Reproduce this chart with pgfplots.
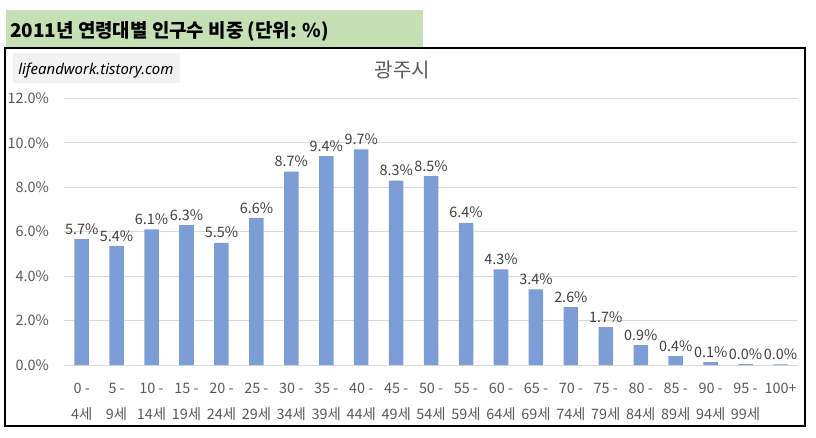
\documentclass[border=0pt]{standalone}
\usepackage{fontspec}
\usepackage{pgfplots}
\pgfplotsset{compat=1.18}
\setmainfont{Noto Sans CJK KR}
\newfontfamily\wmfont{Noto Sans}
\definecolor{barblue}{HTML}{7C9DD6}
\definecolor{gridc}{HTML}{D9D9D9}
\definecolor{tickc}{HTML}{595959}
\definecolor{labc}{HTML}{404040}
\definecolor{titlegreen}{HTML}{C5E0B4}
\definecolor{wmgray}{HTML}{F2F2F2}
\begin{document}
\begin{tikzpicture}[x=0.75pt,y=-0.75pt]
\path[use as bounding box] (0,0) rectangle (816,437);
\fill[titlegreen] (6,10) rectangle (423,47.5);
\node[anchor=west,inner sep=0] at (10,31.5) {\bfseries\fontsize{14.2}{16}\selectfont 2011년 연령대별 인구수 비중 (단위: \%)};
\draw[line width=1.1pt] (5,48) rectangle (805,426);
\fill[wmgray] (13,53) rectangle (180,83);
\node[anchor=west,inner sep=0] at (18,70.5) {\wmfont\itshape\fontsize{11.2}{12}\selectfont lifeandwork.tistory.com};
\node[text=tickc] at (402.5,70) {\fontsize{15}{16}\selectfont 광주시};
\begin{axis}[
  at={(48.15pt,-273.75pt)}, anchor=south west,
  scale only axis, width=550.35pt, height=200pt,
  ybar, bar width=10.9pt,
  xmin=-0.5, xmax=20.5, ymin=0, ymax=12,
  axis line style={draw=none},
  major tick style={draw=none},
  ymajorgrids, grid style={gridc, line width=0.75pt},
  ytick={0,2,4,6,8,10,12},
  /pgf/number format/assume math mode=true,
  yticklabel={\pgfmathprintnumber[fixed,fixed zerofill,precision=1]{\tick}\%},
  yticklabel style={text=tickc, font=\fontsize{10.8}{12}\selectfont, xshift=-8pt},
  xtick={0,1,...,20},
  xticklabels={{0 -\\4세},{5 -\\9세},{10 -\\14세},{15 -\\19세},{20 -\\24세},{25 -\\29세},{30 -\\34세},{35 -\\39세},{40 -\\44세},{45 -\\49세},{50 -\\54세},{55 -\\59세},{60 -\\64세},{65 -\\69세},{70 -\\74세},{75 -\\79세},{80 -\\84세},{85 -\\89세},{90 -\\94세},{95 -\\99세},{100+}},
  xticklabel style={text=tickc, font=\fontsize{10.8}{20}\selectfont, align=center, anchor=north, yshift=-5.5pt},
  nodes near coords={\pgfmathprintnumber[fixed,fixed zerofill,precision=1]{\pgfplotspointmeta}\%},
  every node near coord/.append style={text=labc, font=\fontsize{10.8}{12}\selectfont, yshift=0pt},
]
\addplot[fill=barblue, draw=none] coordinates {
(0,5.66) (1,5.36) (2,6.1) (3,6.3) (4,5.5) (5,6.62) (6,8.7) (7,9.4) (8,9.7) (9,8.3) (10,8.5)
(11,6.4) (12,4.3) (13,3.4) (14,2.6) (15,1.7) (16,0.9) (17,0.4) (18,0.13) (19,0.04) (20,0.03)};
\end{axis}
\end{tikzpicture}
\end{document}
